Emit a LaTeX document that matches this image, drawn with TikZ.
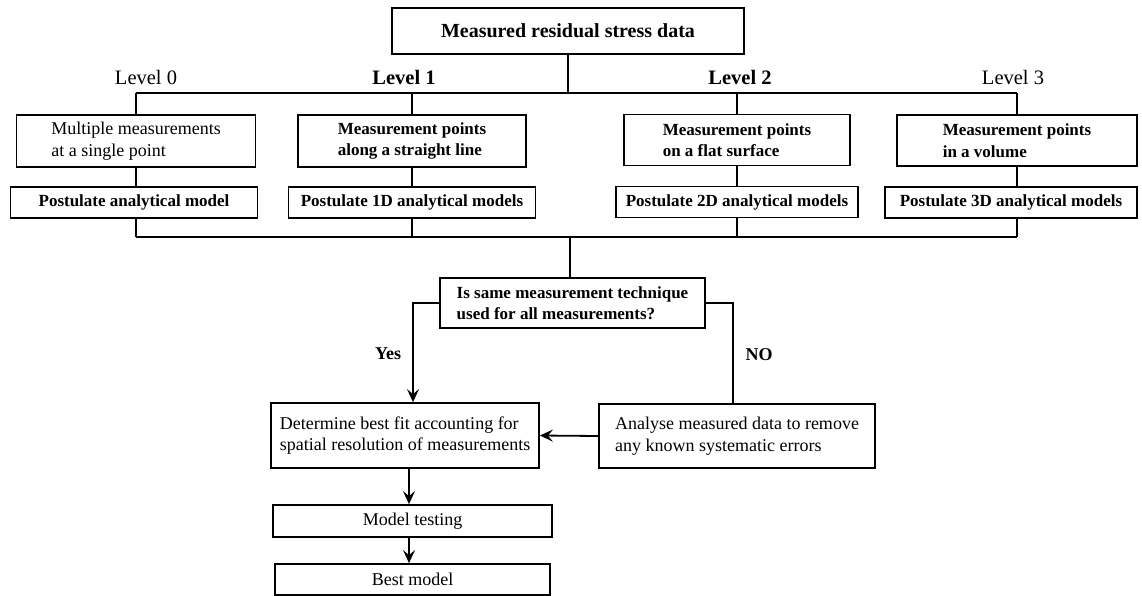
\documentclass[tikz,border=0pt]{standalone}
\usepackage{fontspec}
\setmainfont{Liberation Serif}
\usetikzlibrary{arrows.meta}

\begin{document}
\begin{tikzpicture}[x=1pt, y=-1pt, line width=1.8pt,
  box/.style={draw, rectangle, inner sep=0pt, align=left, font=\fontsize{18}{21.5}\selectfont},
  bbox/.style={box, font=\fontsize{17}{21.5}\selectfont\bfseries},
  lvl/.style={font=\fontsize{20.5}{24}\selectfont},
  arr/.style={-{Stealth[length=13pt, width=12pt, inset=5pt]}}]
\useasboundingbox (0,0) rectangle (1142,596);

\node[bbox, font=\fontsize{20}{24}\selectfont\bfseries, minimum width=352pt, minimum height=46pt] (data) at (568,31) {Measured residual stress data};

\node[lvl] (l0) at (146,77) {Level 0};
\node[lvl, font=\fontsize{20.5}{24}\selectfont\bfseries] (l1) at (404,77) {Level 1};
\node[lvl, font=\fontsize{20.5}{24}\selectfont\bfseries] (l2) at (740,77) {Level 2};
\node[lvl] (l3) at (1013,77) {Level 3};

\node[box, minimum width=239pt, minimum height=52pt] (m0) at (136,141) {Multiple measurements\\at a single point};
\node[bbox, minimum width=228pt, minimum height=52pt] (m1) at (412,141) {Measurement points\\along a straight line};
\node[bbox, minimum width=226pt, minimum height=51pt] (m2) at (737,140) {Measurement points\\on a flat surface};
\node[bbox, minimum width=240pt, minimum height=51pt] (m3) at (1017,140.5) {Measurement points\\in a volume};

\node[bbox, minimum width=247pt, minimum height=31pt] (p0) at (134,202.5) {Postulate analytical model};
\node[bbox, minimum width=247pt, minimum height=31pt] (p1) at (412,202.5) {Postulate 1D analytical models};
\node[bbox, minimum width=242pt, minimum height=31pt] (p2) at (737,202) {Postulate 2D analytical models};
\node[bbox, minimum width=252pt, minimum height=31pt] (p3) at (1011,202.5) {Postulate 3D analytical models};

\coordinate (b0) at (136,93);
\coordinate (b3) at (1017,93);
\coordinate (c0) at (136,237);
\coordinate (c3) at (1017,237);
\coordinate (cm) at (570,237);

\draw (data) -- (data |- b0);
\draw (b0) -- (b3);
\draw (c0) -- (c3);
\foreach \i in {0,1,2,3}{
  \draw (m\i.south |- b0) -- (m\i.north);
  \draw (m\i.south) -- (m\i.south |- p\i.north);
  \draw (m\i.south |- p\i.south) -- (m\i.south |- c0);
}

\node[bbox, minimum width=265pt, minimum height=50pt] (same) at (572.5,303) {Is same measurement technique\\used for all measurements?};
\node[box, minimum width=268pt, minimum height=65pt] (fit) at (405,435.5) {Determine best fit accounting for\\spatial resolution of measurements};
\node[box, minimum width=276pt, minimum height=64pt] (syst) at (737,436) {Analyse measured data to remove\\any known systematic errors};
\node[box, minimum width=279pt, minimum height=32pt] (test) at (412.5,521) {Model testing};
\node[box, minimum width=275pt, minimum height=31pt] (best) at (412.5,579.5) {Best model};

\coordinate (yes) at (413,303);
\coordinate (no) at (733,303);
\node[font=\fontsize{18}{21.5}\selectfont\bfseries] (yeslbl) at (388,354) {Yes};
\node[font=\fontsize{18}{21.5}\selectfont\bfseries] (nolbl) at (759,355) {NO};

\draw (cm) -- (cm |- same.north);
\draw[arr] (same.west) -- (yes) -- (yes |- fit.north);
\draw (same.east) -- (no) -- (no |- syst.north);
\draw[arr] (syst.west) -- (fit.east);
\draw[arr] (fit.south -| 409,0) -- (test.north -| 409,0);
\draw[arr] (test.south -| 409,0) -- (best.north -| 409,0);
\end{tikzpicture}
\end{document}
